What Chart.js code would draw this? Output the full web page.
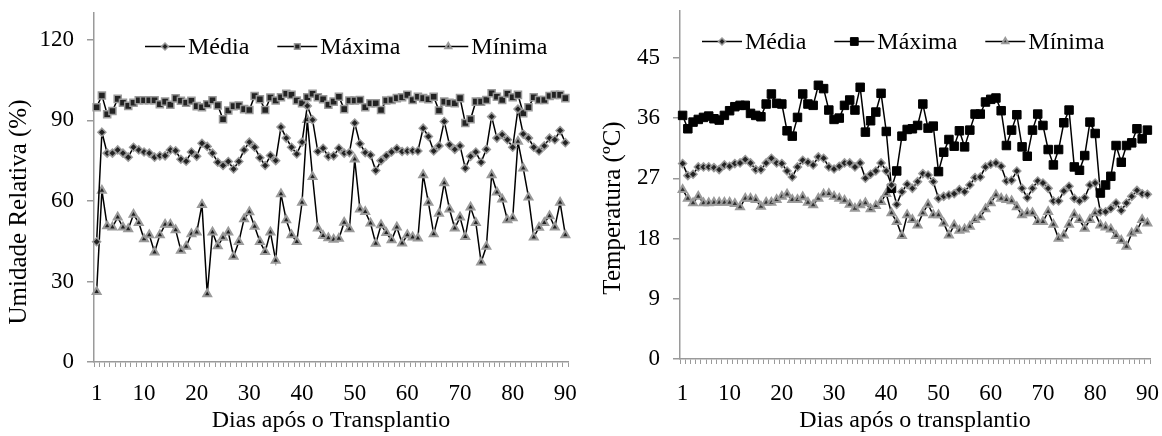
<!DOCTYPE html>
<html><head><meta charset="utf-8">
<script src="https://cdn.jsdelivr.net/npm/chart.js@4.4.0/dist/chart.umd.min.js"></script>
<style>
html,body{margin:0;padding:0;background:#fff;}
#wrap{position:relative;width:1162px;height:436px;overflow:hidden;}
#c1{position:absolute;left:0;top:0;}
#c2{position:absolute;left:580px;top:0;}
</style></head>
<body><div id="wrap"><canvas id="c1" width="580" height="436"></canvas><canvas id="c2" width="582" height="436"></canvas></div>
<script>
const days = Array.from({length: 90}, (_, i) => i + 1);
const xTickLabels = [1, 10, 20, 30, 40, 50, 60, 70, 80, 90];
const umidTicks = [0, 30, 60, 90, 120];
const tempTicks = [0, 9, 18, 27, 36, 45];
const seriesNames = ['Média', 'Máxima', 'Mínima'];

const umidMedia = [44.8,85.6,77.8,77.8,79,77.8,76.3,80,79,78.2, 77.8,76.3,76.8,76.8,79,78.7,75.5,74.8,78.2,76.6, 81.5,80.3,77.8,74.4,73.2,74.7,71.9,74.7,79,81.9, 80,76.1,73.2,76.9,75,87.5,83.4,80,77.5,81.9, 95.4,90.2,78.4,79.6,76.6,76.8,79.6,77.8,78,89, 81.3,78,77.1,71.3,75,76.8,78.2,79.5,78.4,78.6, 78.7,78.6,87.1,84,78.6,80.5,89.6,80.9,79.2,80.5, 72.2,76.6,78.2,74.4,79.2,91.4,83.4,84.7,82.8,80, 94.2,84.9,83.4,80,78.6,80.5,83.4,82.8,86.2,81.7];
const umidMax = [94.9,99.3,92.3,93.5,98,96.6,95.4,96.6,97.5,97.5, 97.5,97.5,96,97,95.8,98.2,97.3,96.6,97.3,95.3, 94.9,96,97.5,95.6,90.4,93.7,95.3,95.5,94.2,93.9, 99.1,97.9,93.9,98.5,97.4,98.6,99.9,99.5,97.4,96.4, 98.6,99.9,98.6,97.9,95.8,97,98.8,94.2,97.4,97.4, 97.6,94.9,96.4,96.4,93.9,97.4,97.6,98.3,98.6,99.5, 97.6,98.8,98.3,97.9,98.8,93.7,97,96.6,96.4,98.3, 89,90.4,97,97,97.6,100.1,98.8,97.6,99.9,98.6, 99.5,92.7,94.9,98.6,97.6,97.6,99.1,99.5,99.5,98.3];
const umidMin = [26.2,63.9,50.7,50.2,53.9,50.2,49.5,54.9,51.9,45.8, 47.3,40.9,47.3,51.2,51.2,49.2,41.5,43,47.7,48.3, 58.6,25.3,48.3,43.2,46.4,48.3,39.3,44.8,53.3,55.9, 50.5,44.8,41.1,48.3,37.8,62.6,52.9,47.3,44.8,59.4, 90.2,69,49.8,47,46.2,45.6,46,52,49.5,75.5, 56.9,56,51.7,44.1,51,48.1,45.4,50.2,44.2,47.3, 46.5,46.1,69.7,59.4,47.7,55.3,66.7,56.9,49.8,53.9, 46.7,57.6,51.9,37.2,43,69.7,63.2,60.6,52.9,53.6, 82.1,72.2,61.4,46.5,50.1,51.9,54.4,50.2,59.4,47.3];

const tempMed = [29.2,27.4,27.6,28.7,28.7,28.7,28.6,28.3,29.0,28.8, 29.2,29.3,29.8,29.3,28.3,28.3,29.3,30.0,29.3,29.2, 28.1,27.2,28.7,29.7,29.4,29.0,30.2,30.0,28.7,28.4, 28.8,29.3,29.3,28.7,29.3,27.0,27.6,28.1,29.3,28.1, 26.0,23.1,25.0,26.1,25.5,26.5,27.7,27.5,26.5,24.0, 24.3,24.5,24.7,25.3,25.0,26.0,27.1,27.2,28.7,29.1, 29.3,28.8,26.6,26.7,28.1,25.5,24.1,25.5,26.6,26.3, 25.5,23.6,23.6,25.1,25.8,24.0,23.6,24.1,26.0,26.3, 22.0,22.0,22.5,23.3,22.2,23.3,24.3,25.2,24.7,24.6];
const tempMax = [36.4,34.4,35.4,35.8,36.1,36.3,35.9,35.7,36.4,37.1, 37.7,37.9,37.9,36.7,36.4,36.2,38.1,39.6,38.2,38.1, 34.1,33.3,36.1,39.6,38.1,37.9,40.9,40.4,37.2,35.8, 36.0,37.9,38.7,37.2,40.6,33.9,35.6,36.9,39.7,34.0, 25.5,28.1,33.3,34.3,34.4,34.9,38.1,34.5,34.8,28.0, 30.9,32.8,31.8,34.1,31.7,34.2,36.6,36.6,38.4,38.8, 39.0,37.1,31.9,34.2,36.5,31.7,30.3,34.2,36.6,34.9, 31.3,29.0,31.3,35.3,37.2,28.7,28.2,30.4,35.4,33.7, 24.8,26.0,27.3,31.9,29.4,31.9,32.3,34.4,32.9,34.2];
const tempMin = [25.3,24.0,23.3,24.3,23.3,23.3,23.4,23.4,23.4,23.4, 23.2,22.7,24.0,24.0,23.8,22.8,23.4,23.4,23.8,24.3, 24.6,23.8,23.8,24.2,23.4,23.0,24.0,24.6,24.7,24.3, 24.0,23.7,23.1,22.5,23.0,23.3,22.4,22.9,23.5,24.7, 21.8,20.5,18.4,21.5,20.8,20.0,21.8,23.1,21.5,21.5, 20.3,18.5,20.0,19.2,19.4,19.8,20.8,21.2,22.4,23.3, 24.5,24.0,23.8,23.6,22.7,21.5,21.8,21.8,20.5,20.5, 22.0,20.1,18.0,18.5,20.1,21.6,20.8,19.5,20.8,21.8, 20.0,19.7,19.4,18.4,17.7,16.8,18.8,19.2,20.8,20.3];

const FONT = '"Liberation Serif", "Times New Roman", serif';
const AXIS = '#9a9a9a';

const inlineLegend = {
  id: 'inlineLegend',
  afterDraw(chart, args, opts) {
    const ctx = chart.ctx;
    ctx.save();
    ctx.font = opts.fontSize + 'px ' + FONT;
    ctx.textBaseline = 'middle';
    ctx.textAlign = 'left';
    let x = chart.chartArea.left + opts.startX;
    const y = opts.y;
    chart.data.datasets.forEach(ds => {
      ctx.strokeStyle = '#000';
      ctx.lineWidth = 1.5;
      ctx.beginPath(); ctx.moveTo(x, y); ctx.lineTo(x + 40, y); ctx.stroke();
      ctx.fillStyle = ds.pointBackgroundColor;
      ctx.strokeStyle = ds.pointBorderColor;
      ctx.lineWidth = ds.pointBorderWidth;
      Chart.helpers.drawPoint(ctx, {pointStyle: ds.pointStyle, radius: ds.legendRadius, borderWidth: ds.pointBorderWidth, rotation: 0}, x + 20, y);
      ctx.fillStyle = '#000';
      ctx.fillText(ds.label, x + 43, y + 1);
      x += 43 + ctx.measureText(ds.label).width + opts.gap;
    });
    // vertical axis title
    ctx.save();
    ctx.translate(opts.yTitleX, opts.yTitleY);
    ctx.rotate(-Math.PI / 2);
    ctx.font = opts.yTitleSize + 'px ' + FONT;
    ctx.textAlign = 'center';
    ctx.textBaseline = 'middle';
    ctx.fillStyle = '#000';
    ctx.fillText(opts.yTitle, 0, 0);
    ctx.restore();
    ctx.restore();
  }
};

function makeDataset(label, data, style) {
  return Object.assign({
    label, data,
    borderColor: '#000', borderWidth: 1.5, tension: 0, fill: false,
    pointBackgroundColor: '#222', pointBorderColor: '#9a9a9a', pointBorderWidth: 1.5,
    pointHoverRadius: 0
  }, style);
}

function makeChart(canvas, cfg) {
  return new Chart(canvas, {
    type: 'line',
    data: {
      labels: days,
      datasets: cfg.datasets
    },
    plugins: [inlineLegend],
    options: {
      responsive: false, animation: false, devicePixelRatio: 1,
      layout: {padding: {left: 0, right: cfg.padRight, top: cfg.padTop, bottom: 0}},
      plugins: {
        legend: {display: false}, tooltip: {enabled: false},
        inlineLegend: {startX: cfg.legendX, y: cfg.legendY, gap: 28, fontSize: 24,
          yTitle: cfg.yTitle, yTitleX: cfg.yTitleX, yTitleY: cfg.yTitleY, yTitleSize: 25}
      },
      scales: {
        x: {
          type: 'category', offset: true,
          afterFit: s => { s.height = cfg.xHeight; s.paddingLeft = 0; s.paddingRight = 0; },
          grid: {display: true, drawOnChartArea: false, drawTicks: true, tickLength: 5, color: AXIS, lineWidth: 1, offset: true},
          border: {display: true, color: AXIS, width: 1.5},
          ticks: {
            autoSkip: false, maxRotation: 0, minRotation: 0, padding: cfg.xTickPad, color: '#000',
            font: {family: FONT, size: 23},
            callback: function(val, idx) { const d = days[idx]; return xTickLabels.includes(d) ? String(d) : ''; }
          },
          title: {display: true, text: cfg.xTitle, color: '#000', font: {family: FONT, size: 24}, padding: {top: 0, bottom: 1}}
        },
        y: {
          min: 0, max: cfg.yMax,
          afterFit: s => { s.width = cfg.yWidth; s.paddingTop = 0; s.paddingBottom = 0; },
          afterBuildTicks: s => { s.ticks = cfg.yTicks.map(v => ({value: v})); },
          grid: {display: true, drawOnChartArea: false, drawTicks: true, tickLength: 7, color: AXIS, lineWidth: 1.5},
          border: {display: true, color: AXIS, width: 1.5},
          ticks: {padding: 13, color: '#000', font: {family: FONT, size: 23}},
          title: {display: false}
        }
      }
    }
  });
}

makeChart(document.getElementById('c1'), {
  datasets: [
    makeDataset(seriesNames[0], umidMedia, {pointStyle: 'rectRot', pointRadius: 4, legendRadius: 3.5}),
    makeDataset(seriesNames[1], umidMax, {pointStyle: 'rect', pointRadius: 5, legendRadius: 4}),
    makeDataset(seriesNames[2], umidMin, {pointStyle: 'triangle', pointRadius: 4.5, pointBorderWidth: 2, legendRadius: 3.5})
  ],
  yMax: 130, yTicks: umidTicks, yWidth: 94, xHeight: 74, padTop: 13, padRight: 12, xTickPad: 13,
  xTitle: 'Dias após o Transplantio', yTitle: 'Umidade Relativa (%)', yTitleX: 19, yTitleY: 212,
  legendX: 51, legendY: 46.5
});

makeChart(document.getElementById('c2'), {
  datasets: [
    makeDataset(seriesNames[0], tempMed, {pointStyle: 'rectRot', pointRadius: 4, legendRadius: 3.5}),
    makeDataset(seriesNames[1], tempMax, {pointStyle: 'rect', pointRadius: 6, pointBackgroundColor: '#000', pointBorderColor: '#000', pointBorderWidth: 1, legendRadius: 5.5}),
    makeDataset(seriesNames[2], tempMin, {pointStyle: 'triangle', pointRadius: 4.5, pointBorderWidth: 2, pointBackgroundColor: '#333', legendRadius: 3.5})
  ],
  yMax: 52, yTicks: tempTicks, yWidth: 100, xHeight: 77, padTop: 11, padRight: 12, xTickPad: 16,
  xTitle: 'Dias após o transplantio', yTitle: 'Temperatura (ºC)', yTitleX: 33, yTitleY: 208,
  legendX: 22, legendY: 41.5
});
</script>
</body></html>
